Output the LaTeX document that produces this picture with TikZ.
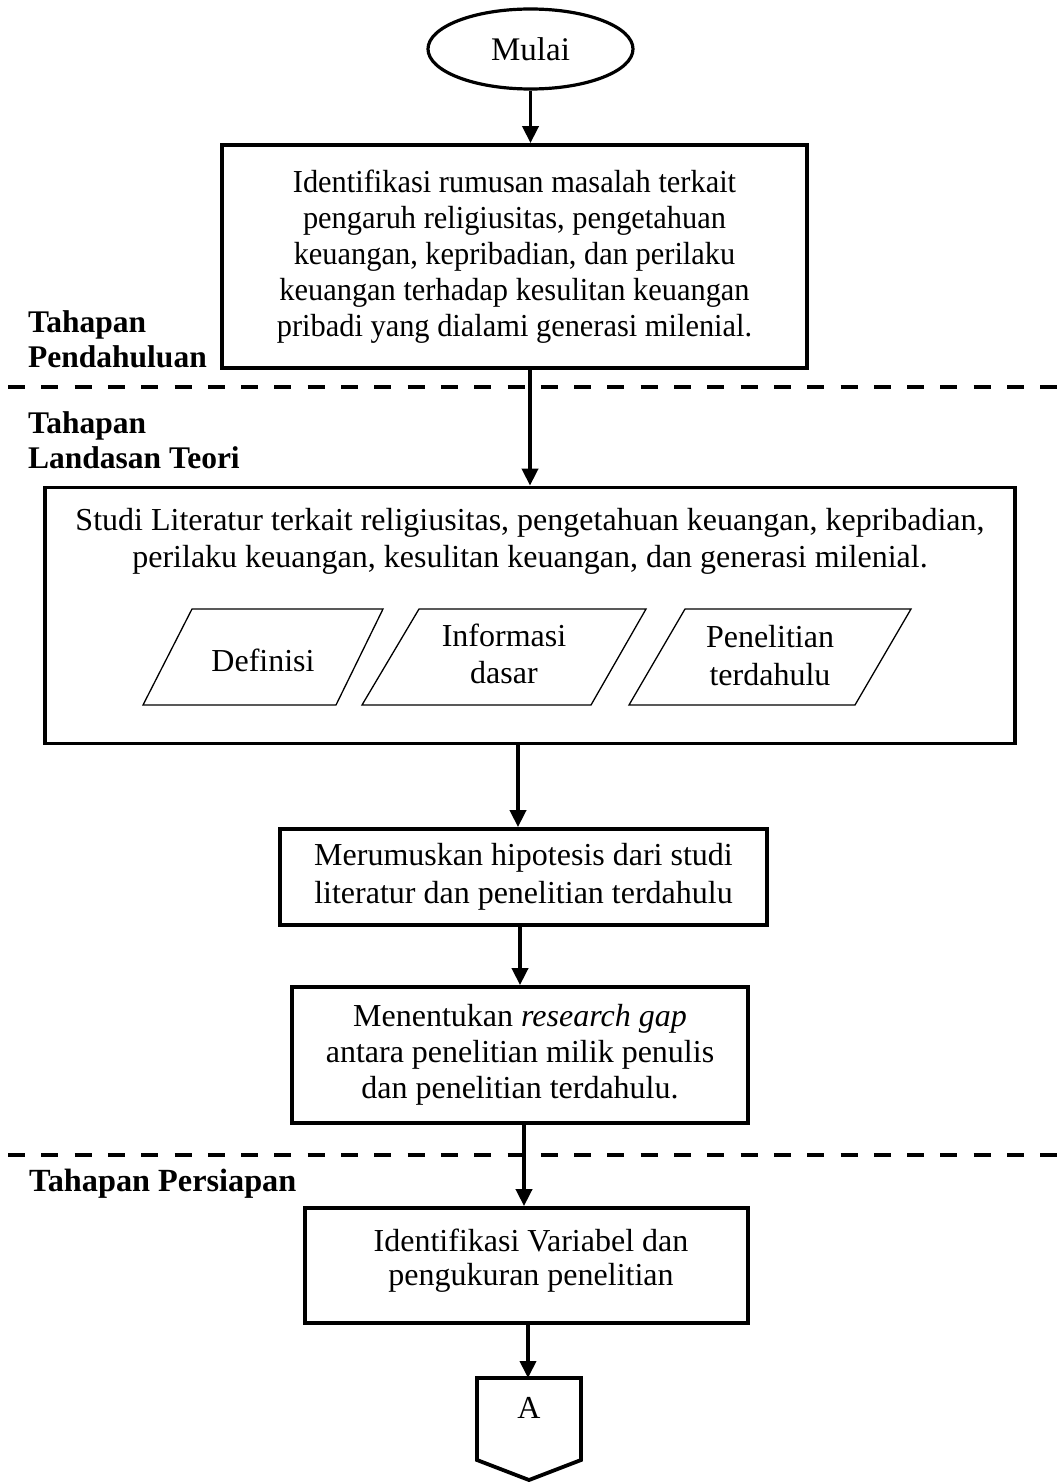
\documentclass[tikz,border=0pt]{standalone}
\usepackage{fontspec}
\setmainfont{Liberation Serif}
\newfontfamily\condserif[FakeStretch=0.95]{Liberation Serif}
\usetikzlibrary{arrows.meta,shapes.geometric}
\begin{document}
\begin{tikzpicture}[x=1pt,y=-1pt,
  every node/.style={font=\fontsize{32}{35}\selectfont},
  box/.style={draw,line width=3.8pt,align=center,inner sep=0pt},
  arr/.style={line width=3.8pt,-{Triangle[width=16pt,length=17pt]}},
  sep/.style={line width=3.8pt,dash pattern=on 17pt off 16.3pt},
  para/.style={line width=1.3pt,line join=miter},
  stage/.style={font=\fontsize{31.5}{35}\bfseries\selectfont,align=left,anchor=west,inner sep=0pt},
  plain/.style={align=center,inner sep=0pt}]
\useasboundingbox (0,0) rectangle (1057,1482);

% start
\node[ellipse,draw,line width=3.2pt,minimum width=205pt,minimum height=80pt,inner sep=0pt,font=\fontsize{33}{35}\selectfont] (start) at (530.5,49) {Mulai};

% box 1
\node[box,minimum width=585pt,minimum height=223pt,font=\condserif\fontsize{32}{36}\selectfont] (b1) at (514.5,256.5) {Identifikasi rumusan masalah terkait\\pengaruh religiusitas, pengetahuan\\keuangan, kepribadian, dan perilaku\\keuangan terhadap kesulitan keuangan\\pribadi yang dialami generasi milenial.};

% stage labels
\node[stage] (s1) at (28,339.5) {Tahapan\\Pendahuluan};
\node[stage] (s2) at (28,440.5) {Tahapan\\Landasan Teori};
\node[stage,font=\fontsize{32.3}{35}\bfseries\selectfont] (s3) at (29,1184) {Tahapan Persiapan};

% separators
\coordinate (d1a) at (8,387);
\coordinate (d1b) at (1057,387);
\coordinate (d2a) at (8,1155);
\coordinate (d2b) at (1057,1155);
\draw[sep] (d1a) -- (d1b);
\draw[sep] (d2a) -- (d2b);

% box 2
\node[box,minimum width=970pt,minimum height=256pt] (b2) at (530,615.5) {};
\node[plain,font=\fontsize{32}{37}\selectfont] (b2t) at (530,541) {Studi Literatur terkait religiusitas, pengetahuan keuangan, kepribadian,\\perilaku keuangan, kesulitan keuangan, dan generasi milenial.};

\draw[para] (143,705) -- (192,609) -- (383,609) -- (336,705) -- cycle;
\draw[para] (362,705) -- (419,609) -- (646,609) -- (591,705) -- cycle;
\draw[para] (629,705) -- (685,609) -- (911,609) -- (855,705) -- cycle;
\node[plain] (p1) at (263,660) {Definisi};
\node[plain,font=\fontsize{32}{37}\selectfont] (p2) at (504,654) {Informasi\\dasar};
\node[plain,font=\fontsize{32}{38}\selectfont] (p3) at (770,656) {Penelitian\\terdahulu};

% box 3
\node[box,minimum width=487pt,minimum height=96pt,font=\fontsize{32}{38}\selectfont] (b3) at (523.5,877) {Merumuskan hipotesis dari studi\\literatur dan penelitian terdahulu};

% box 4
\node[box,minimum width=456pt,minimum height=136pt,font=\fontsize{32}{36}\selectfont] (b4) at (520,1055) {Menentukan \textit{research gap}\\antara penelitian milik penulis\\dan penelitian terdahulu.};

% box 5
\node[box,minimum width=443pt,minimum height=115pt] (b5) at (526.5,1265.5) {};
\node[plain,font=\fontsize{32}{34}\selectfont] (b5t) at (531,1260.5) {Identifikasi Variabel dan\\pengukuran penelitian};

% off-page connector
\coordinate (Atop) at (528,1378);
\draw[line width=3.8pt,line join=miter] (477,1378) -- (581,1378) -- (581,1460) -- (529,1480) -- (477,1460) -- cycle;
\node[plain] (A) at (529,1408) {A};

% arrow x positions
\coordinate (x3) at (518,0);
\coordinate (x4) at (520,0);
\coordinate (x5) at (524,0);

% arrows
\draw[arr] (start.south) -- (start.south |- b1.north);
\draw[arr] (b1.south -| b2) -- (b2.north);
\draw[arr] (b2.south -| x3) -- (b3.north -| x3);
\draw[arr] (b3.south -| x4) -- (b4.north -| x4);
\draw[arr] (b4.south -| x5) -- (b5.north -| x5);
\draw[arr] (b5.south -| Atop) -- (Atop);
\end{tikzpicture}
\end{document}
